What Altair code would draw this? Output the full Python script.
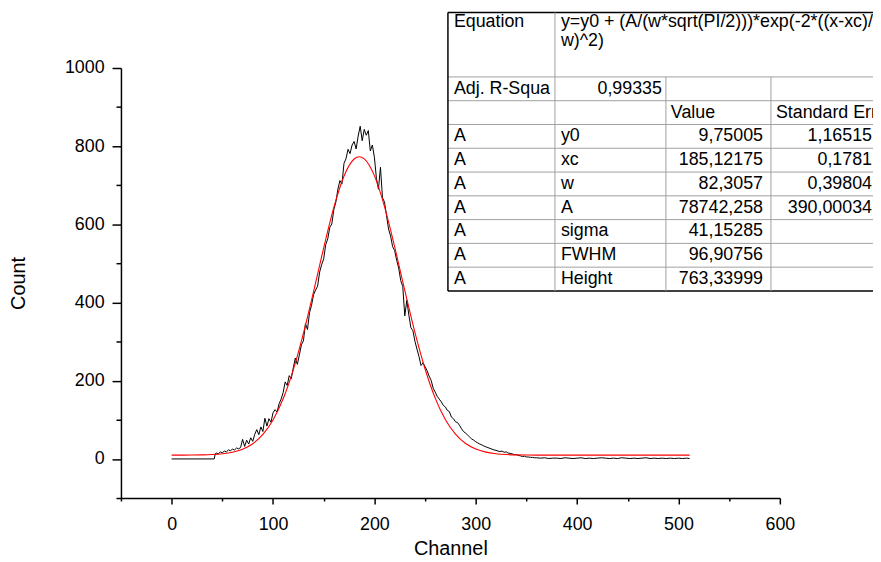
import altair as alt
import pandas as pd

# ---------------- data ----------------
channels = [0, 42, 43] + list(range(44, 361, 2)) + list(range(364, 509, 4)) + [511]
counts = [
    0, 0, 13,
    15, 13, 18, 16, 20, 18, 23, 21, 25, 23,
    28, 26, 29, 50, 32, 48, 38, 54, 45, 63,
    75, 62, 82, 70, 104, 84, 103, 94, 118, 126,
    120, 141, 153, 170, 197, 188, 213, 205, 233, 258,
    242, 266, 292, 302, 346, 331, 374, 393, 420, 432,
    442, 478, 497, 512, 548, 563, 592, 601, 638, 657,
    690, 712, 703, 756, 768, 792, 781, 803, 812, 793,
    826, 851, 814, 843, 828, 840, 788, 803, 772, 718,
    690, 746, 668, 657, 622, 588, 570, 543, 533, 508,
    488, 456, 441, 366, 406, 368, 336, 328, 301, 281,
    262, 239, 246, 236, 226, 212, 201, 181, 171, 160,
    153, 146, 137, 133, 124, 121, 107, 103, 95, 93,
    86, 77, 70, 66, 61, 56, 51, 48, 44, 41,
    38, 36, 33, 31, 29, 27, 25, 23, 22, 20,
    19, 20, 17, 18, 15, 14, 13, 11, 11, 9,
    8, 6, 7, 5, 5, 4, 4, 3, 3,
    2, 3, 1, 2, 2, 1, 3, 2, 1, 2,
    3, 1, 2, 1, 2, 3, 2, 1, 2, 1,
    3, 2, 1, 2, 1, 2, 3, 1, 2, 1,
    2, 1, 2, 1, 2, 1, 2,
    1,
]

fit_channels = list(range(0, 181, 10)) + [185] + list(range(190, 511, 10)) + [511]
fit_counts = [
    9.78, 9.84, 9.99, 10.38, 11.27, 13.23, 17.25, 25.0, 39.0, 62.6,
    99.6, 154.0, 228.0, 321.0, 428.2, 540.1, 643.3, 723.3, 767.2,
    773.1,
    767.7, 724.8, 645.6, 542.8, 430.9, 323.5, 230.0, 155.6, 100.7, 63.3,
    39.4, 25.3, 17.4, 13.3, 11.3, 10.39, 10.0, 9.85, 9.79,
    9.75, 9.75, 9.75, 9.75, 9.75, 9.75, 9.75, 9.75, 9.75, 9.75, 9.75, 9.75, 9.75, 9.75,
    9.75,
]

x_ticks = list(range(-50, 601, 50))
y_ticks = list(range(-100, 1001, 100))

# fit report table contents
eq_label = "Equation"
eq_lines = ["y=y0 + (A/(w*sqrt(PI/2)))*exp(-2*((x-xc)/", "w)^2)"]
adj_label = "Adj. R-Squa"
adj_value = "0,99335"
col_headers = ["Value", "Standard Error"]
param_groups = ["A", "A", "A", "A", "A", "A", "A"]
param_names = ["y0", "xc", "w", "A", "sigma", "FWHM", "Height"]
param_values = ["9,75005", "185,12175", "82,3057", "78742,258", "41,15285", "96,90756", "763,33999"]
param_errors = ["1,16515", "0,1781", "0,39804", "390,00034", "", "", ""]

assert len(channels) == len(counts), (len(channels), len(counts))
assert len(fit_channels) == len(fit_counts), (len(fit_channels), len(fit_counts))

# ---------------- layout (page pixels) ----------------
PX0, PY0 = 122, 66          # plot origin on the page
W, H = 665, 434             # plot area
SVG_W, SVG_H = 873, 554
FONT = "Liberation Sans"
TBL_COLS = [452, 560, 672, 778, 900]
TBL_TOP, TBL_EQ_BOTTOM, ROW_H, N_ROWS = 10, 75, 24, 9
INNER = "#a0a0a0"

df_data = pd.DataFrame({"channel": channels, "count": counts})
df_fit = pd.DataFrame({"channel": fit_channels, "count": fit_counts})

x_axis = alt.Axis(
    values=x_ticks, title="Channel", format="d",
    labelExpr="datum.value % 100 === 0 ? datum.label : ''",
    tickSize={"condition": {"test": "datum.value % 100 === 0", "value": 6}, "value": 3},
    labelPadding=12, labelFlush=False, labelOverlap=False,
    titleX=W / 2, titleY=51, titleBaseline="middle", titleAlign="center",
)
y_axis = alt.Axis(
    values=y_ticks, title="Count", format="d",
    labelExpr="datum.value % 200 === 0 ? datum.label : ''",
    tickSize={"condition": {"test": "datum.value % 200 === 0", "value": 9}, "value": 5},
    labelPadding=8, labelFlush=False, labelOverlap=False,
    titleX=19 - PX0, titleY=H / 2, titleAngle=270,
    titleBaseline="middle", titleAlign="center",
)
xs = alt.Scale(domain=[-50, 600], nice=False, zero=False)
ys = alt.Scale(domain=[-100, 1000], nice=False, zero=False)

black = alt.Chart(df_data).mark_line(color="black", strokeWidth=1).encode(
    x=alt.X("channel:Q", scale=xs, axis=x_axis),
    y=alt.Y("count:Q", scale=ys, axis=y_axis),
)
red = alt.Chart(df_fit).mark_line(color="#ff0000", strokeWidth=1.1, interpolate="monotone").encode(
    x=alt.X("channel:Q", scale=xs, axis=x_axis),
    y=alt.Y("count:Q", scale=ys, axis=y_axis),
)
plot = alt.layer(black, red)

# ---------------- table ----------------
row_edges = [TBL_TOP, TBL_EQ_BOTTOM] + [TBL_EQ_BOTTOM + ROW_H * i for i in range(1, N_ROWS + 1)]
tbl_bottom = row_edges[-1]
lines = []
for yy in row_edges:
    outer = yy in (TBL_TOP, tbl_bottom)
    lines.append(dict(x1=TBL_COLS[0], x2=TBL_COLS[-1], y1=yy, y2=yy,
                      c="black" if outer else INNER, w=1.5 if outer else 1))
lines.append(dict(x1=TBL_COLS[0], x2=TBL_COLS[0], y1=TBL_TOP, y2=tbl_bottom, c="black", w=1.5))
lines.append(dict(x1=TBL_COLS[1], x2=TBL_COLS[1], y1=TBL_TOP, y2=tbl_bottom, c=INNER, w=1))
lines.append(dict(x1=TBL_COLS[2], x2=TBL_COLS[2], y1=TBL_EQ_BOTTOM, y2=tbl_bottom, c=INNER, w=1))
lines.append(dict(x1=TBL_COLS[3], x2=TBL_COLS[3], y1=TBL_EQ_BOTTOM, y2=tbl_bottom, c=INNER, w=1))
df_lines = pd.DataFrame(lines)
for k in ("x1", "x2"):
    df_lines[k] = df_lines[k] - PX0
for k in ("y1", "y2"):
    df_lines[k] = df_lines[k] - PY0


def row_center(i):
    return TBL_EQ_BOTTOM + ROW_H * i + ROW_H / 2


left_txt = [
    (eq_label, 458, 20), (eq_lines[0], 566, 20), (eq_lines[1], 566, 39),
    (adj_label, 458, row_center(0)),
    (col_headers[0], 677, row_center(1)), (col_headers[1], 783, row_center(1)),
]
right_txt = [(adj_value, 668, row_center(0))]
for i in range(len(param_names)):
    yc = row_center(2 + i)
    left_txt.append((param_groups[i], 458, yc))
    left_txt.append((param_names[i], 566, yc))
    right_txt.append((param_values[i], 770, yc))
    if param_errors[i]:
        right_txt.append((param_errors[i], 880, yc))

df_left = pd.DataFrame(left_txt, columns=["t", "x", "y"])
df_right = pd.DataFrame(right_txt, columns=["t", "x", "y"])
for d in (df_left, df_right):
    d["x"] = d["x"] - PX0
    d["y"] = d["y"] - PY0

px_x = alt.Scale(domain=[0, W], range=[0, W], nice=False, zero=False)
px_y = alt.Scale(domain=[0, H], range=[0, H], nice=False, zero=False)

rules = alt.Chart(df_lines).mark_rule().encode(
    x=alt.X("x1:Q", scale=px_x, axis=None), x2="x2:Q",
    y=alt.Y("y1:Q", scale=px_y, axis=None), y2="y2:Q",
    color=alt.Color("c:N", scale=None),
    strokeWidth=alt.StrokeWidth("w:Q", scale=None),
)
t_left = alt.Chart(df_left).mark_text(align="left", baseline="middle", font=FONT,
                                       fontSize=18, color="black").encode(
    x=alt.X("x:Q", scale=px_x, axis=None), y=alt.Y("y:Q", scale=px_y, axis=None), text="t:N")
t_right = alt.Chart(df_right).mark_text(align="right", baseline="middle", font=FONT,
                                         fontSize=18, color="black").encode(
    x=alt.X("x:Q", scale=px_x, axis=None), y=alt.Y("y:Q", scale=px_y, axis=None), text="t:N")
table = alt.layer(rules, t_left, t_right)

pad_l, pad_t = PX0 - 8, PY0 - 8
chart = alt.layer(plot, table).resolve_scale(x="independent", y="independent").properties(
    width=W, height=H,
    padding={"left": pad_l, "top": pad_t, "right": SVG_W - pad_l - W, "bottom": SVG_H - pad_t - H},
    autosize=alt.AutoSizeParams(type="none"),
    background="white",
).configure_view(stroke=None).configure_axis(
    grid=False, domainColor="black", tickColor="black", domainWidth=1.5, tickWidth=1.5,
    labelFont=FONT, labelFontSize=18, labelColor="black",
    titleFont=FONT, titleFontSize=20, titleFontWeight="normal", titleColor="black",
)

chart.save("out.html", embed_options={"renderer": "svg", "actions": False})
